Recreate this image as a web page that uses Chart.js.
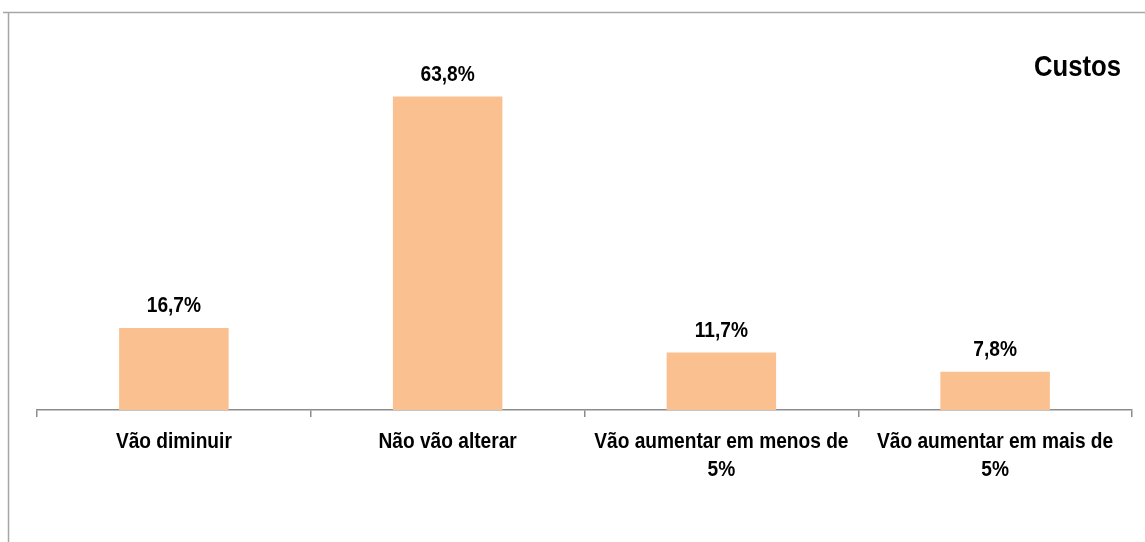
<!DOCTYPE html>
<html>
<head>
<meta charset="utf-8">
<script src="https://cdn.jsdelivr.net/npm/chart.js@4/dist/chart.umd.min.js"></script>
<style>
  html, body { margin: 0; padding: 0; background: #fff; }
  #wrap { position: relative; width: 1145px; height: 542px; }
</style>
</head>
<body>
<div id="wrap"><canvas id="chartCanvas" width="1145" height="542"></canvas></div>
<script>
// dados do gráfico
const categorias = [
  "Vão diminuir",
  "Não vão alterar",
  ["Vão aumentar em menos de", "5%"],
  ["Vão aumentar em mais de", "5%"]
];
const valores = [16.7, 63.8, 11.7, 7.8];
const tituloSerie = "Custos";

// não há Arial Narrow instalada: usamos Liberation Sans e comprimimos na horizontal
const fonte = "'Liberation Sans', Arial, sans-serif";
const estreito = 0.87;

function textoEstreito(ctx, txt, x, y) {
  ctx.save();
  ctx.translate(x, y);
  ctx.scale(estreito, 1);
  ctx.fillText(txt, 0, 0);
  ctx.restore();
}

// moldura (linha de cima e da esquerda) + título "Custos"
const molduraPlugin = {
  id: 'moldura',
  beforeDraw(chart) {
    const ctx = chart.ctx;
    ctx.save();
    ctx.strokeStyle = '#a6a6a6';
    ctx.lineWidth = 1.5;
    ctx.beginPath();
    ctx.moveTo(3, 12.5);
    ctx.lineTo(1145, 12.5);
    ctx.moveTo(8.5, 12.5);
    ctx.lineTo(8.5, 542);
    ctx.stroke();
    ctx.restore();
  },
  afterDraw(chart) {
    const ctx = chart.ctx;
    ctx.save();
    ctx.fillStyle = '#000';
    ctx.font = "bold 29.5px " + fonte;
    ctx.textAlign = 'right';
    ctx.textBaseline = 'middle';
    textoEstreito(ctx, tituloSerie, 1121, 68);
    ctx.restore();
  }
};

// rótulos de valor por cima das barras e rótulos do eixo x
const rotulosPlugin = {
  id: 'rotulos',
  afterDatasetsDraw(chart) {
    const ctx = chart.ctx;
    const meta = chart.getDatasetMeta(0);
    const xScale = chart.scales.x;
    ctx.save();
    ctx.fillStyle = '#000';
    ctx.textAlign = 'center';
    ctx.textBaseline = 'middle';
    ctx.font = "bold 22px " + fonte;
    meta.data.forEach((bar, i) => {
      const txt = valores[i].toFixed(1).replace('.', ',') + '%';
      textoEstreito(ctx, txt, bar.x, bar.y - 22);
    });
    categorias.forEach((cat, i) => {
      const linhas = Array.isArray(cat) ? cat : [cat];
      const x = xScale.getPixelForValue(i);
      linhas.forEach((l, j) => {
        textoEstreito(ctx, l, x, xScale.top + 32 + j * 28);
      });
    });
    ctx.restore();
  }
};

const ctx = document.getElementById('chartCanvas').getContext('2d');
new Chart(ctx, {
  type: 'bar',
  data: {
    labels: categorias,
    datasets: [{
      label: tituloSerie,
      data: valores,
      backgroundColor: 'rgb(250,192,143)',
      borderWidth: 0,
      categoryPercentage: 0.8,
      barPercentage: 0.5
    }]
  },
  options: {
    responsive: false,
    animation: false,
    layout: { padding: { left: 37, right: 13, top: 66, bottom: 0 } },
    plugins: {
      legend: { display: false },
      tooltip: { enabled: false }
    },
    scales: {
      x: {
        grid: {
          offset: true,
          drawOnChartArea: false,
          drawTicks: true,
          tickLength: 7,
          color: '#8c8c8c',
          lineWidth: 1.5
        },
        border: { display: true, color: '#8c8c8c', width: 1.5 },
        ticks: { display: false },
        afterFit(scale) { scale.height = 132; }
      },
      y: {
        display: false,
        min: 0,
        max: 70
      }
    }
  },
  plugins: [molduraPlugin, rotulosPlugin]
});
</script>
</body>
</html>
